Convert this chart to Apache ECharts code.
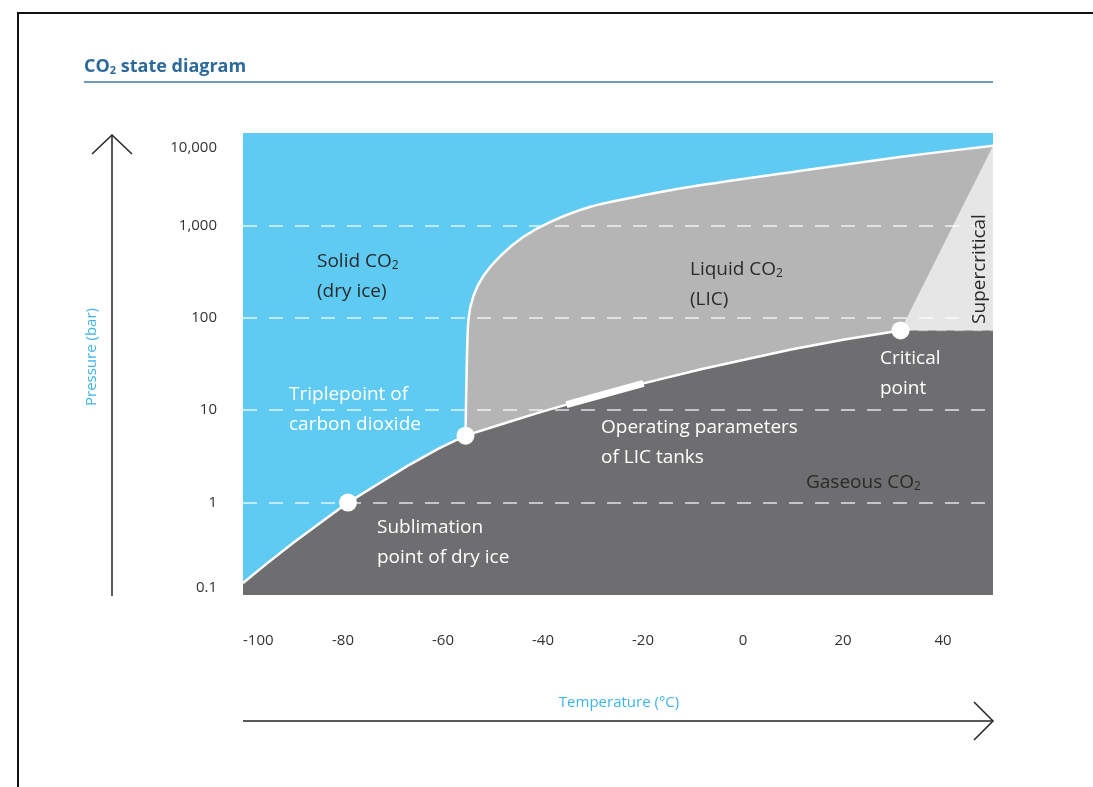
<!DOCTYPE html>
<html>
<head>
<meta charset="utf-8">
<title>CO2 state diagram</title>
<script src="https://cdn.jsdelivr.net/npm/echarts@6/dist/echarts.min.js"></script>
<style>
  html, body { margin: 0; padding: 0; background: #fff; }
  #chart { width: 1093px; height: 787px; }
</style>
</head>
<body>
<div id="chart"></div>
<script>
// phase boundaries: [temperature °C, pressure bar]
const sublimationCurve = [[-100, 0.135], [-95, 0.224], [-90, 0.365], [-85, 0.578], [-79, 1.0],
  [-73, 1.59], [-67, 2.51], [-60.9, 3.83], [-55.5, 5.3]];
const vaporCurve = [[-55.5, 5.3], [-47.5, 7.28], [-40.5, 9.52], [-35.3, 11.5], [-27.5, 15.2],
  [-19.9, 19.5], [-8.4, 27.8], [9.6, 45.4], [20.6, 58.6], [31.5, 73]];
const meltingCurve = [[-55.5, 5.3], [-55.3, 21.9], [-54.9, 97.5], [-53.9, 173], [-51.9, 285],
  [-48.5, 469], [-43.9, 753], [-38.5, 1094], [-30.5, 1590], [-20.4, 2090], [-10.4, 2618],
  [11.6, 3900], [31.7, 5530], [50, 7280]];
const supercriticalEdge = [[31.5, 73], [50, 7280]];
const criticalIsobar = [[31.5, 73], [50, 73]];
const operatingRange = [[-35.3, 11.5], [-19.9, 19.5]];
const markedPoints = [[-79, 1], [-55.5, 5.3], [31.5, 73]];

const pressureTicks = [0.1, 1, 10, 100, 1000, 10000];
const pressureTickLabels = ['0.1', '1', '10', '100', '1,000', '10,000'];

const FONT = "'Open Sans', sans-serif";
const DARK = '#2A2A2A';
const chart = echarts.init(document.getElementById('chart'));

// gas region: sublimation + vaporisation curve, then flat to the right edge
const gasBoundary = sublimationCurve.concat(vaporCurve.slice(1), [criticalIsobar[1]]);
const phaseLine = sublimationCurve.concat(vaporCurve.slice(1));

// one text element per line so the subscripts sit right
function label(x, y, lines, color) {
  return lines.map(function (line, i) {
    return {
      type: 'text',
      x: x,
      y: y + i * 30,
      z: 100,
      style: {
        text: line,
        fill: color,
        font: '19px ' + FONT,
        textAlign: 'left',
        textVerticalAlign: 'middle',
        rich: {
          n: { fontSize: 19, fill: color, fontFamily: FONT },
          s: { fontSize: 12, fill: color, fontFamily: FONT, verticalAlign: 'bottom' }
        }
      }
    };
  });
}

const option = {
  animation: false,
  backgroundColor: '#fff',
  grid: {
    left: 243,
    right: 100,
    top: 133,
    bottom: 192,
    show: true,
    backgroundColor: '#5FCBF3',
    borderWidth: 0
  },
  xAxis: {
    type: 'value',
    min: -100,
    max: 50,
    interval: 20,
    axisLine: { show: false },
    axisTick: { show: false },
    splitLine: { show: false },
    axisLabel: {
      margin: 38,
      fontSize: 15,
      color: '#333',
      fontFamily: FONT,
      showMaxLabel: false,
      alignMinLabel: 'left'
    }
  },
  yAxis: {
    type: 'log',
    logBase: 10,
    min: 0.1,
    max: 10000,
    z: 5,
    axisLine: { show: false },
    axisTick: { show: false },
    splitLine: {
      show: true,
      showMinLine: false,
      showMaxLine: false,
      lineStyle: { color: 'rgba(255,255,255,0.8)', width: 1.5, type: [14, 12] }
    },
    axisLabel: {
      margin: 26,
      fontSize: 15,
      color: '#333',
      fontFamily: FONT,
      verticalAlignMaxLabel: 'top',
      verticalAlignMinLabel: 'bottom',
      formatter: function (v) {
        for (let i = 0; i < pressureTicks.length; i++) {
          if (Math.abs(Math.log10(v) - Math.log10(pressureTicks[i])) < 0.01) {
            return i === pressureTicks.length - 1 ? '{hi|' + pressureTickLabels[i] + '}' : pressureTickLabels[i];
          }
        }
        return '';
      },
      rich: { hi: { padding: [7, 0, 0, 0], fontSize: 15, color: '#333', fontFamily: FONT } }
    }
  },
  series: [
    {
      name: 'Liquid',
      type: 'line',
      data: meltingCurve,
      symbol: 'none',
      smooth: 0.3,
      z: 2,
      lineStyle: { color: '#fff', width: 2.5 },
      areaStyle: { color: '#B5B5B5', opacity: 1, origin: 'start' }
    },
    {
      name: 'Supercritical',
      type: 'line',
      data: supercriticalEdge,
      symbol: 'none',
      z: 3,
      lineStyle: { width: 0 },
      areaStyle: { color: '#E6E6E6', opacity: 1, origin: 'start' }
    },
    {
      name: 'Gaseous',
      type: 'line',
      data: gasBoundary,
      symbol: 'none',
      z: 4,
      lineStyle: { width: 0 },
      areaStyle: { color: '#6E6E70', opacity: 1, origin: 'start' }
    },
    {
      name: 'Phase line',
      type: 'line',
      data: phaseLine,
      symbol: 'none',
      z: 6,
      lineStyle: { color: '#fff', width: 2.5, join: 'round' }
    },
    {
      name: 'Critical isobar',
      type: 'line',
      data: criticalIsobar,
      symbol: 'none',
      z: 6,
      lineStyle: { color: 'rgba(255,255,255,0.35)', width: 1.5, type: [10, 8] }
    },
    {
      name: 'Operating parameters',
      type: 'line',
      data: operatingRange,
      symbol: 'none',
      z: 7,
      lineStyle: { color: '#fff', width: 7, cap: 'butt' }
    },
    {
      name: 'Points',
      type: 'scatter',
      data: markedPoints,
      symbol: 'circle',
      symbolSize: 18,
      z: 8,
      itemStyle: { color: '#fff', opacity: 1 }
    }
  ],
  graphic: [
    // frame
    {
      type: 'rect', z: 100,
      shape: { x: 18, y: 13, width: 1200, height: 900 },
      style: { fill: 'none', stroke: '#111', lineWidth: 2 }
    },
    // title
    {
      type: 'text', x: 84, y: 67, z: 100,
      style: {
        text: '{t|CO}{s|2}{t| state diagram}',
        textVerticalAlign: 'middle',
        rich: {
          t: { fontSize: 18, fontWeight: 'bold', fill: '#2C6A9C', fontFamily: FONT },
          s: { fontSize: 11, fontWeight: 'bold', fill: '#2C6A9C', fontFamily: FONT, verticalAlign: 'bottom' }
        }
      }
    },
    {
      type: 'line', z: 100,
      shape: { x1: 84, y1: 82, x2: 993, y2: 82 },
      style: { stroke: '#3C78A6', lineWidth: 1.5 }
    },
    // pressure arrow
    {
      type: 'polyline', z: 100,
      shape: { points: [[112, 596], [112, 135]] },
      style: { stroke: '#222', lineWidth: 1.5, fill: null }
    },
    {
      type: 'polyline', z: 100,
      shape: { points: [[92, 154], [112, 135], [132, 154]] },
      style: { stroke: '#222', lineWidth: 1.5, fill: null }
    },
    {
      type: 'text', x: 92, y: 357, z: 100, rotation: Math.PI / 2,
      style: {
        text: 'Pressure (bar)', fill: '#3DB5E8', font: '15px ' + FONT,
        textAlign: 'center', textVerticalAlign: 'middle'
      }
    },
    // temperature arrow
    {
      type: 'polyline', z: 100,
      shape: { points: [[243, 721], [993, 721]] },
      style: { stroke: '#222', lineWidth: 1.5, fill: null }
    },
    {
      type: 'polyline', z: 100,
      shape: { points: [[974, 702], [993, 721], [974, 740]] },
      style: { stroke: '#222', lineWidth: 1.5, fill: null }
    },
    {
      type: 'text', x: 619, y: 703, z: 100,
      style: {
        text: 'Temperature (°C)', fill: '#3DB5E8', font: '15px ' + FONT,
        textAlign: 'center', textVerticalAlign: 'middle'
      }
    },
    // supercritical label, read bottom to top
    {
      type: 'text', x: 980, y: 269, z: 100, rotation: Math.PI / 2,
      style: {
        text: 'Supercritical', fill: DARK, font: '19px ' + FONT,
        textAlign: 'center', textVerticalAlign: 'middle'
      }
    }
  ].concat(
    label(317, 262, ['{n|Solid CO}{s|2}', '{n|(dry ice)}'], DARK),
    label(690, 270, ['{n|Liquid CO}{s|2}', '{n|(LIC)}'], DARK),
    label(289, 395, ['Triplepoint of', 'carbon dioxide'], '#fff'),
    label(377, 528, ['Sublimation', 'point of dry ice'], '#fff'),
    label(601, 428, ['Operating parameters', 'of LIC tanks'], '#fff'),
    label(880, 359, ['Critical', 'point'], '#fff'),
    label(806, 483, ['{n|Gaseous CO}{s|2}'], DARK)
  )
};

chart.setOption(option);
</script>
</body>
</html>
